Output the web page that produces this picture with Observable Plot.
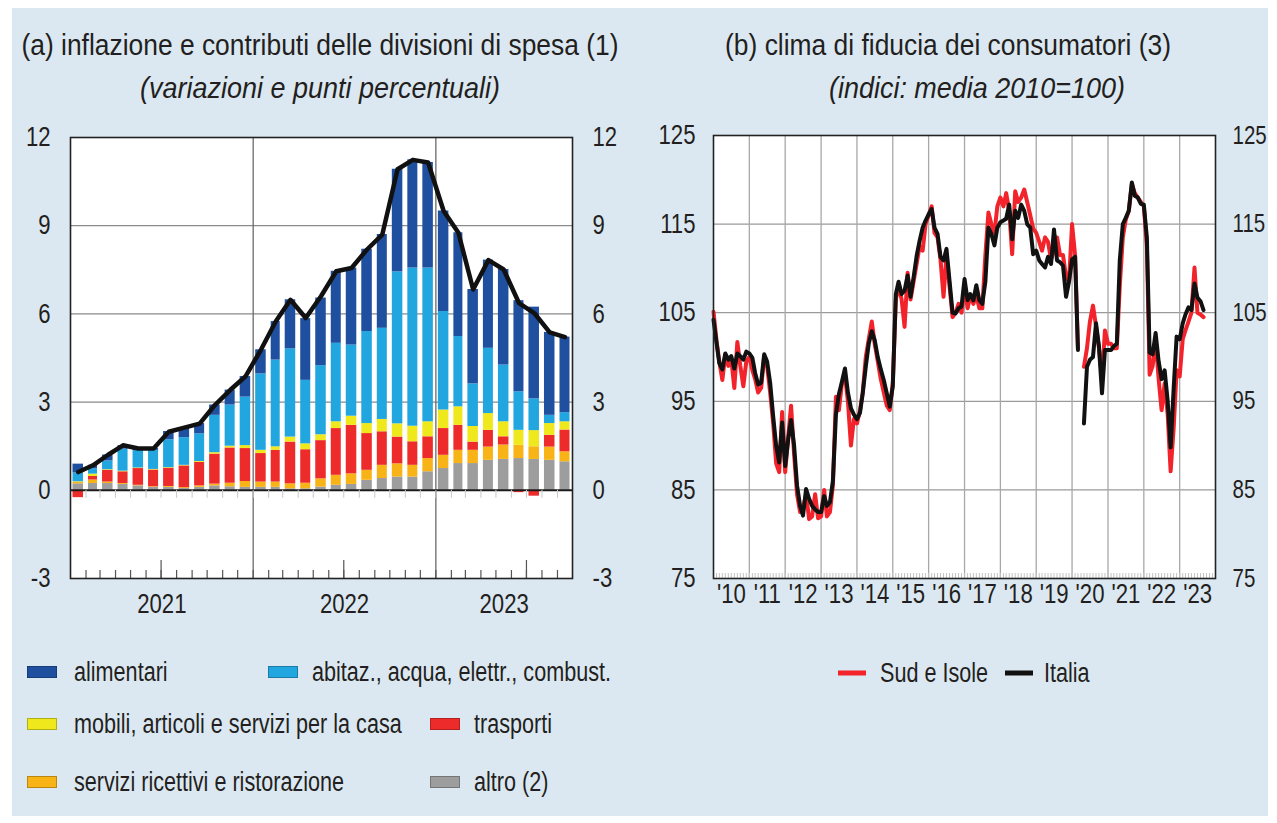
<!DOCTYPE html>
<html><head><meta charset="utf-8">
<script src="https://cdn.jsdelivr.net/npm/d3@7"></script>
<script src="https://cdn.jsdelivr.net/npm/@observablehq/plot@0.6"></script>
<style>
body{margin:0;background:#fff;}
#page{position:relative;width:1277px;height:823px;background:#fff;overflow:hidden;font-family:"Liberation Sans",Arial,sans-serif;color:#231f20;}
#panel{position:absolute;left:12px;top:8px;width:1256px;height:808px;background:#dce8f1;}
.t{position:absolute;white-space:nowrap;font-size:29px;line-height:34px;transform:translate(-50%,-50%) scaleX(0.91);}
.i{font-style:italic;transform:translate(-50%,-50%) scaleX(0.93);}
.chart{position:absolute;top:115px;}
.lg{position:absolute;white-space:nowrap;font-size:27px;line-height:32px;transform:translateY(-50%) scaleX(0.8);transform-origin:left center;}
.sw{position:absolute;width:30px;height:12px;transform:translateY(-50%);box-sizing:border-box;border:1px solid rgba(0,0,0,0.25);}
.ln{position:absolute;width:28px;height:5px;transform:translateY(-50%);}
</style></head>
<body><div id="page"><div id="panel"></div>
<div class="t" style="left:320px;top:45px">(a) inflazione e contributi delle divisioni di spesa (1)</div>
<div class="t i" style="left:320px;top:88px">(variazioni e punti percentuali)</div>
<div class="t" style="left:948px;top:45px">(b) clima di fiducia dei consumatori (3)</div>
<div class="t i" style="left:977px;top:88px">(indici: media 2010=100)</div>
<div id="left" class="chart" style="left:0px"></div>
<div id="right" class="chart" style="left:640px"></div>
<div id="legL"></div>
<div id="legR"></div>
</div>
<script>
const FONT = '"Liberation Sans",Arial,sans-serif';

// ---------- (a) inflation contributions, Jan 2021 - Sep 2023 ----------
const serie = ["altro (2)", "servizi ricettivi e ristorazione", "trasporti", "mobili, articoli e servizi per la casa", "abitaz., acqua, elettr., combust.", "alimentari"];
const colori = ["#9d9d9d", "#f8b417", "#ee2b2b", "#eee81c", "#22a6df", "#1f4f9f"];
const altro      = [0.22,0.23,0.23,0.20,0.15,0.10,0.10,0.06,0.10,0.15,0.12,0.10, 0.10,0.10,0.05,0.05,0.11,0.17,0.20,0.34,0.40,0.45,0.45,0.63, 0.74,0.91,0.91,1.02,1.05,1.08,1.05,1.02,0.97];
const servizi    = [0.05,0.12,0.05,0.03,0.02,0.02,0.03,0.03,0.05,0.06,0.12,0.20, 0.18,0.18,0.17,0.19,0.28,0.34,0.36,0.34,0.45,0.45,0.40,0.45, 0.45,0.45,0.45,0.45,0.49,0.45,0.43,0.45,0.34];
const trasporti  = [-0.25,0.12,0.40,0.40,0.57,0.57,0.62,0.74,0.80,1.02,1.20,1.12, 0.97,1.08,1.42,1.14,1.30,1.59,1.65,1.25,1.14,0.91,0.80,0.74, 0.91,0.85,0.28,0.57,0.28,-0.08,-0.20,0.40,0.74];
const mobili     = [0.02,0.08,0.02,0.02,0.02,0.02,0.02,0.02,0.03,0.05,0.06,0.10, 0.11,0.12,0.17,0.20,0.20,0.23,0.31,0.34,0.42,0.45,0.53,0.51, 0.63,0.63,0.53,0.57,0.51,0.51,0.55,0.40,0.28];
const abitaz     = [0.30,0.18,0.30,0.75,0.60,0.65,0.95,0.94,0.94,1.27,1.40,1.65, 2.60,2.95,3.00,2.16,2.35,2.67,2.42,3.13,3.10,5.17,5.38,5.23, 3.35,2.39,1.45,2.22,1.93,1.31,1.08,0.28,0.31];
const alimentari = [0.30,0.12,0.20,0.12,0.06,0.06,0.28,0.34,0.35,0.35,0.51,0.70, 0.82,1.31,1.67,2.10,2.30,2.45,2.62,2.80,3.19,3.49,3.68,3.59, 3.42,3.53,3.21,3.00,3.25,3.10,3.12,2.82,2.57];
const totale     = [0.62,0.85,1.20,1.53,1.42,1.42,1.99,2.13,2.27,2.90,3.41,3.87, 4.78,5.74,6.48,5.86,6.60,7.45,7.56,8.19,8.70,10.92,11.24,11.15, 9.50,8.76,6.83,7.83,7.51,6.37,6.03,5.37,5.21];
const yTicksA = [-3, 0, 3, 6, 9, 12];
const anniA = ["2021", "2022", "2023"];

// ---------- (b) consumer confidence, Jan 2010 - Sep 2023 ----------
const italia = [
 104.2,101.6,99.3,98.6,100.4,99.7,100.1,98.7,100.4,100.1,99.7,100.6,
 100.4,99.9,98.2,96.9,97.1,100.3,99.5,97.1,93.3,90.0,88.1,92.6,
 87.7,90.7,92.9,90.0,85.5,83.2,82.1,85.1,84.0,83.2,82.8,82.5,
 82.5,84.3,83.2,83.6,86.0,93.5,95.8,97.2,98.7,96.0,94.2,93.5,
 93.0,93.7,95.9,98.9,101.5,102.9,101.9,100.0,98.6,97.4,95.9,94.4,
 96.7,107.1,108.5,107.1,107.5,109.2,106.8,109.0,111.4,113.1,114.6,115.4,
 116.1,116.7,114.6,113.9,111.3,110.9,112.2,108.6,105.0,104.9,105.5,105.7,
 108.8,106.4,107.1,106.4,108.1,106.4,106.0,108.5,114.6,113.9,112.6,114.6,
 115.2,115.4,115.6,117.2,113.3,116.5,115.7,117.2,116.5,115.0,114.6,111.6,
 112.0,110.9,110.5,110.1,111.3,110.5,114.4,110.9,110.7,110.3,106.8,108.5,
 111.0,111.3,100.8,null,92.5,98.9,99.7,100.0,103.8,101.2,95.9,100.8,
 100.8,100.8,101.2,101.5,110.9,115.0,115.7,116.5,119.7,118.2,118.0,117.3,
 117.2,113.5,100.5,100.3,102.7,99.5,97.5,98.5,95.0,89.8,96.5,102.3,
 102.0,103.8,104.8,105.6,105.3,108.3,106.7,106.3,105.3];
const sud = [
 105.1,101.8,99.5,97.4,100.2,99.0,99.8,96.5,101.7,99.0,96.7,99.5,
 100.0,98.5,97.5,96.0,96.5,100.0,99.0,96.0,92.5,88.0,87.0,93.8,
 87.0,91.0,94.5,89.0,84.5,82.5,83.0,84.5,81.7,82.0,84.5,81.8,
 82.0,85.0,82.0,82.5,85.5,95.5,94.0,97.0,98.0,95.0,90.0,93.0,
 92.5,94.0,96.0,100.0,102.0,104.0,101.5,99.5,97.5,96.0,94.5,94.0,
 97.0,106.5,108.0,106.5,103.4,109.5,106.5,108.5,110.5,112.5,112.0,115.0,
 116.0,117.0,114.0,113.5,111.0,106.8,111.5,108.0,104.5,105.0,106.0,105.0,
 108.0,105.5,107.0,106.0,107.0,105.5,105.5,111.5,116.3,115.0,114.0,117.0,
 118.0,117.0,118.5,116.5,111.6,118.7,117.5,118.0,118.9,117.5,116.0,114.5,
 114.0,113.0,112.0,113.5,113.0,111.0,112.0,113.5,111.5,111.5,109.0,108.5,
 115.0,111.5,101.0,null,98.9,101.0,104.0,105.8,103.5,101.0,97.5,103.0,
 101.5,101.5,101.0,101.0,108.0,113.5,115.5,116.5,119.5,118.5,118.0,117.5,
 117.0,112.5,98.0,99.0,102.0,97.5,94.0,97.0,93.5,87.1,92.0,98.5,
 97.8,102.0,103.0,104.0,105.0,110.1,105.0,104.8,104.5];
const yTicksB = [75, 85, 95, 105, 115, 125];
const anniB = ["'10","'11","'12","'13","'14","'15","'16","'17","'18","'19","'20","'21","'22","'23"];
const serieB = ["Sud e Isole", "Italia"];
const coloriB = ["#f2232b", "#111111"];

// ================= chart (a) =================
const startA = new Date(Date.UTC(2021,0,1)), endA = new Date(Date.UTC(2023,9,1));
const mesi = d3.utcMonth.range(startA, endA);
const valori = [altro, servizi, trasporti, mobili, abitaz, alimentari];
const stackData = serie.flatMap((s,k) => mesi.map((d,i) => ({date: d, series: s, value: valori[k][i]})));
const midMonth = d => new Date((+d + +d3.utcMonth.offset(d,1)) / 2);
const totData = mesi.map((d,i) => ({date: midMonth(d), value: totale[i]}));
const yearsA = anniA.map(a => {
  const s = new Date(Date.UTC(+a,0,1)), e = new Date(Date.UTC(+a+1,0,1));
  const s2 = s < startA ? startA : s, e2 = e > endA ? endA : e;
  return {label: a, start: s, mid: new Date((+s2 + +e2)/2)};
});
const boundsA = mesi.slice(1);
const innerA = 505 - 22 - 42;

const plotA = Plot.plot({
  width: 640, height: 505,
  marginLeft: 70, marginRight: 68, marginTop: 22, marginBottom: 42,
  style: {background: "transparent", fontFamily: FONT, fontSize: "27px", color: "#231f20", overflow: "visible"},
  x: {type: "utc", domain: [startA, endA], axis: null},
  y: {domain: [-3, 12]},
  color: {domain: serie, range: colori},
  marks: [
    Plot.frame({fill: "white", stroke: "none"}),
    Plot.ruleY(yTicksA.filter(v => v !== 0 && v !== -3 && v !== 12), {stroke: "#8a8a8a", strokeWidth: 1.3}),
    Plot.ruleX(yearsA.filter(y => y.start > startA), {x: "start", stroke: "#6a6a6a", strokeWidth: 1.3}),
    Plot.rectY(stackData, {x: "date", y: "value", interval: "month", fill: "series", order: serie, insetLeft: 2.5, insetRight: 2.5}),
    Plot.ruleY([0], {stroke: "#1a1a1a", strokeWidth: 2}),
    Plot.ruleX(boundsA, {y1: 0, y2: 0, insetBottom: -8, stroke: "#c9c9c9", strokeWidth: 1}),
    Plot.ruleX(boundsA, {insetTop: innerA - 8, stroke: "#555", strokeWidth: 1.2}),
    Plot.ruleX(boundsA.filter(d => d.getUTCMonth() === 6), {insetTop: innerA - 18, stroke: "#555", strokeWidth: 1.2}),
    Plot.line(totData, {x: "date", y: "value", stroke: "#111", strokeWidth: 4.5, strokeLinejoin: "round", strokeLinecap: "round"}),
    Plot.axisY({anchor: "left", ticks: yTicksA, tickSize: 0, tickPadding: 20, tickFormat: d => String(d), label: null}),
    Plot.axisY({anchor: "right", ticks: yTicksA, tickSize: 0, tickPadding: 20, tickFormat: d => String(d), label: null}),
    Plot.text(yearsA, {x: "mid", text: "label", frameAnchor: "bottom", dy: 34, fontSize: 27}),
    Plot.frame({stroke: "#222", strokeWidth: 1.6})
  ]
});
document.getElementById("left").appendChild(plotA);

// ================= chart (b) =================
const startB = new Date(Date.UTC(2010,0,1)), endB = new Date(Date.UTC(2024,0,1));
const mesiB = d3.utcMonth.range(startB, new Date(Date.UTC(2023,9,1)));
const fData = [sud, italia].flatMap((arr,k) => mesiB.map((d,i) => ({date: d, series: serieB[k], value: arr[i]})));
const yearsB = anniB.map((a,i) => {
  const s = new Date(Date.UTC(2010+i,0,1)), e = new Date(Date.UTC(2011+i,0,1));
  return {label: a, start: s, mid: new Date((+s + +e)/2)};
});
const innerB = 505 - 20 - 42;
const monthsB = d3.utcMonth.range(startB, endB).slice(1);

const plotB = Plot.plot({
  width: 637, height: 505,
  marginLeft: 73, marginRight: 62, marginTop: 20, marginBottom: 42,
  style: {background: "transparent", fontFamily: FONT, fontSize: "27px", color: "#231f20", overflow: "visible"},
  x: {type: "utc", domain: [startB, endB], axis: null},
  y: {domain: [75, 125]},
  color: {domain: serieB, range: coloriB},
  marks: [
    Plot.frame({fill: "white", stroke: "none"}),
    Plot.ruleY(yTicksB.filter(v => v > 75 && v < 125), {stroke: "#9a9a9a", strokeWidth: 1.3}),
    Plot.ruleX(yearsB.filter(y => y.start > startB), {x: "start", stroke: "#a8a8a8", strokeWidth: 1.3}),
    Plot.ruleX(monthsB, {insetTop: innerB - 5, stroke: "#c4c4c4", strokeWidth: 1}),
    Plot.line(fData, {x: "date", y: "value", z: "series", stroke: "series", strokeWidth: 4, strokeLinejoin: "round", strokeLinecap: "round"}),
    Plot.axisY({anchor: "left", ticks: yTicksB, tickSize: 0, tickPadding: 18, tickFormat: d => String(d), label: null}),
    Plot.axisY({anchor: "right", ticks: yTicksB, tickSize: 0, tickPadding: 17, tickFormat: d => String(d), label: null, fontSize: 25}),
    Plot.text(yearsB, {x: "mid", text: "label", frameAnchor: "bottom", dy: 24, fontSize: 27}),
    Plot.frame({stroke: "#222", strokeWidth: 1.6})
  ]
});
document.getElementById("right").appendChild(plotB);

// condense SVG labels horizontally (narrow type look)
for (const svg of [plotA, plotB]) {
  svg.querySelectorAll("text").forEach(t => {
    const len = t.getComputedTextLength();
    if (len > 0) {
      t.setAttribute("textLength", (len * 0.82).toFixed(1));
      t.setAttribute("lengthAdjust", "spacingAndGlyphs");
    }
  });
}

// ================= legends =================
const legL = document.getElementById("legL");
const legPos = [
  {s: "alimentari", sx: 27, tx: 74, y: 672},
  {s: "abitaz., acqua, elettr., combust.", sx: 268, tx: 312, y: 672},
  {s: "mobili, articoli e servizi per la casa", sx: 27, tx: 74, y: 724},
  {s: "trasporti", sx: 430, tx: 474, y: 724},
  {s: "servizi ricettivi e ristorazione", sx: 27, tx: 74, y: 782},
  {s: "altro (2)", sx: 430, tx: 474, y: 782}
];
legPos.forEach(p => {
  const sw = document.createElement("div");
  sw.className = "sw"; sw.style.left = p.sx + "px"; sw.style.top = p.y + "px";
  sw.style.background = colori[serie.indexOf(p.s)];
  legL.appendChild(sw);
  const t = document.createElement("div");
  t.className = "lg"; t.style.left = p.tx + "px"; t.style.top = p.y + "px"; t.textContent = p.s;
  legL.appendChild(t);
});
const legR = document.getElementById("legR");
[{s: "Sud e Isole", lx: 838, tx: 880}, {s: "Italia", lx: 1005, tx: 1044}].forEach(p => {
  const ln = document.createElement("div");
  ln.className = "ln"; ln.style.left = p.lx + "px"; ln.style.top = "673px";
  ln.style.background = coloriB[serieB.indexOf(p.s)];
  legR.appendChild(ln);
  const t = document.createElement("div");
  t.className = "lg"; t.style.left = p.tx + "px"; t.style.top = "673px"; t.textContent = p.s;
  legR.appendChild(t);
});
</script>
</body></html>
